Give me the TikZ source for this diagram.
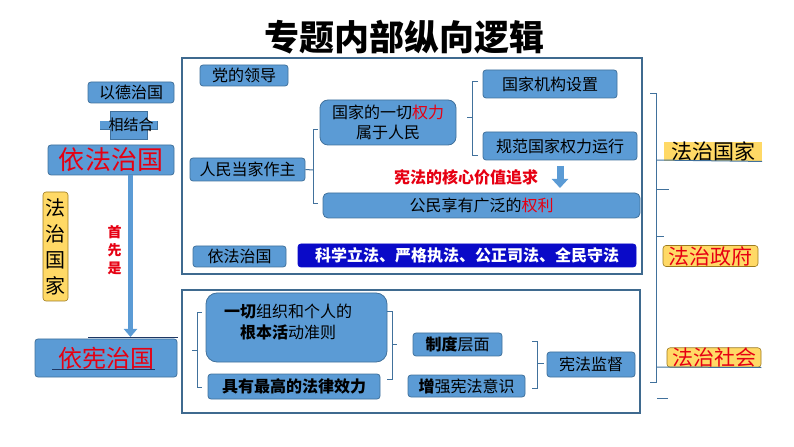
\documentclass[tikz,border=0pt]{standalone}
\usepackage{fontspec}
\setmainfont{Noto Sans CJK SC}
\usetikzlibrary{arrows.meta}
\definecolor{bfill}{HTML}{5B9BD5}
\definecolor{bline}{HTML}{41719C}
\definecolor{frame}{HTML}{3F6A8F}
\definecolor{navy}{HTML}{0A0AC8}
\definecolor{gold}{HTML}{FFD966}
\definecolor{goldline}{HTML}{9C7A1E}
\definecolor{hred}{HTML}{E60012}
\definecolor{uline}{HTML}{1F3864}
\newcommand\mybox[7][]{\node[bbox,#1,minimum width={(#5-#3)*1bp},minimum height={(#6-#4)*1bp}] (#2) at ({(#3+#5)/2},{(#4+#6)/2}) {#7};}
\newcommand\fs[2]{\fontsize{#1bp}{#2bp}\selectfont}
\begin{document}
\begin{tikzpicture}[x=1bp,y=-1bp,
  bbox/.style={draw=bline, fill=bfill, rounded corners=3bp, line width=0.8bp, inner sep=0pt, text=black, font=\fs{16}{20}, align=center},
  brk/.style={draw=bline, line width=1bp},
  frm/.style={draw=frame, line width=1.5bp},
  gbox/.style={fill=gold, draw=goldline, rounded corners=3bp, line width=0.6bp, inner sep=0pt, font=\fs{21}{24}},
  blockarrow/.style={draw=bfill, line width=#1}
]
\useasboundingbox (0,0) rectangle (794,447);
% title
\node[font=\fs{35}{40}\bfseries] (title) at (404,37) {专题内部纵向逻辑};
% frames
\draw[frm] (182,58) rectangle (642,274);
\draw[frm] (182,290) rectangle (640,413);
% ---------- left column ----------
\mybox{ydzg}{88}{82}{174}{103}{以德治国}
\fill[bfill, draw=bline, line width=0.5bp] (100,121) rectangle (157,129);
\node[fill=bfill, draw=bline, line width=0.5bp, minimum width=37bp, minimum height=28bp, inner sep=0pt] (xjh0) at (128.5,125) {};
\fill[bfill] (100.3,121.3) rectangle (156.7,128.7);
\node[font=\fs{15}{18}] (xjh) at (131,125) {相结合};
\mybox[font=\fs{26}{30}, text=hred]{yfzg}{48}{145}{174}{175}{依法治国}
\coordinate (ah) at (130.5,337);
\draw[bfill, line width=5bp, -{Triangle[width=13bp,length=8bp]}] (ah |- yfzg.south) -- (ah);
\node[gbox, minimum width=25bp, minimum height=109bp, align=center, font=\fs{20}{26}] (fzgj) at (55.5,246.5) {法\\治\\国\\家};
\node[text=hred, font=\fs{14}{18}\bfseries, align=center] (sxs) at (114.5,250) {首\\先\\是};
\draw[uline, line width=0.8bp] (88,337) -- (178,337);
\mybox[font=\fs{24}{28}, text=hred]{yxzg}{35}{339}{177}{377}{依宪治国}
\draw[uline, line width=0.8bp] (52,369) -- (155,369);
% ---------- top frame ----------
\mybox{ddld}{200}{65}{288}{86}{党的领导}
\mybox{rmdj}{190}{158}{305}{181}{人民当家作主}
\mybox[rounded corners=8bp, font=\fs{16}{20}]{qlsy}{320}{100}{456}{145}{国家的一切\textcolor{hred}{权力}\\属于人民}
\mybox{gjjg}{483}{70}{617}{98}{国家机构设置}
\mybox{gfql}{483}{132}{637}{160}{规范国家权力运行}
\node[text=hred, font=\fs{16}{20}\bfseries] (hxjz) at (466,177) {宪法的核心价值追求};
\coordinate (sa) at (560,188);
\draw[bfill, line width=7bp, -{Triangle[width=16bp,length=9bp]}] (560,166) -- (sa);
\mybox[rounded corners=5bp]{gmxy}{323}{193}{640}{218}{公民享有广泛的\textcolor{hred}{权利}}
\mybox{yfzg2}{193}{246}{286}{267}{依法治国}
\mybox[fill=navy, draw=navy, text=white, font=\fs{16}{20}\bfseries]{kxlf}{298}{244}{636}{267}{科学立法、严格执法、公正司法、全民守法}
% brackets top
\draw[brk] (rmdj.east) -- (313,170);
\draw[brk] (318,130) -- (313,130) -- (313,204) -- (318,204);
\draw[brk] (467,118) -- (472,118);
\draw[brk] (478,82) -- (472,82) -- (472,156) -- (478,156);
% ---------- bottom frame ----------
\node[bbox, rounded corners=11bp, minimum width=181bp, minimum height=69bp] (gbzz) at (296.5,327.5) {};
\node[font=\fs{16}{21}, align=center] (gbzzt) at (288,322) {\bfseries 一切\mdseries 组织和个人的\\\bfseries 根本活\mdseries 动准则};
\mybox[font=\fs{16}{20}\bfseries]{zgfl}{208}{374}{380}{399}{具有最高的法律效力}
\draw[brk] (202,313) -- (197,313) -- (197,387) -- (202,387);
\draw[brk] (192,351) -- (197,351);
\draw[brk] (387,312) -- (392,312) -- (392,379) -- (387,379);
\draw[brk] (392,345) -- (397,345);
\mybox{zdcm}{413}{333}{502}{356}{\textbf{制度}层面}
\mybox{zqyx}{408}{375}{525}{397}{\textbf{增}强宪法意识}
\draw[brk] (532,342) -- (537,342) -- (537,388) -- (532,388);
\draw[brk] (537,363) -- (544,363);
\mybox{xfjd}{547}{352}{635}{377}{宪法监督}
% ---------- right column ----------
\draw[brk] (650,94) -- (656,94) -- (656,382) -- (650,382);
\node[fill=gold, inner sep=0pt, minimum width=98bp, minimum height=17bp, font=\fs{21}{24}] (fzgj2) at (713,151.5) {法治国家};
\node[gbox, minimum width=95bp, minimum height=21bp, text=hred] (fzzf) at (710.5,256) {法治政府};
\node[gbox, minimum width=94bp, minimum height=19bp, text=hred] (fzsh) at (714,357.5) {法治社会};
\draw[brk] (656,160) -- (fzgj2.south east);
\draw[brk] (656,367) -- (fzsh.south east);
\draw[brk] (656,190) -- (669,190);
\draw[brk] (656,237) -- (664,237);
\draw[brk] (657,398) -- (668,398);
\end{tikzpicture}
\end{document}
